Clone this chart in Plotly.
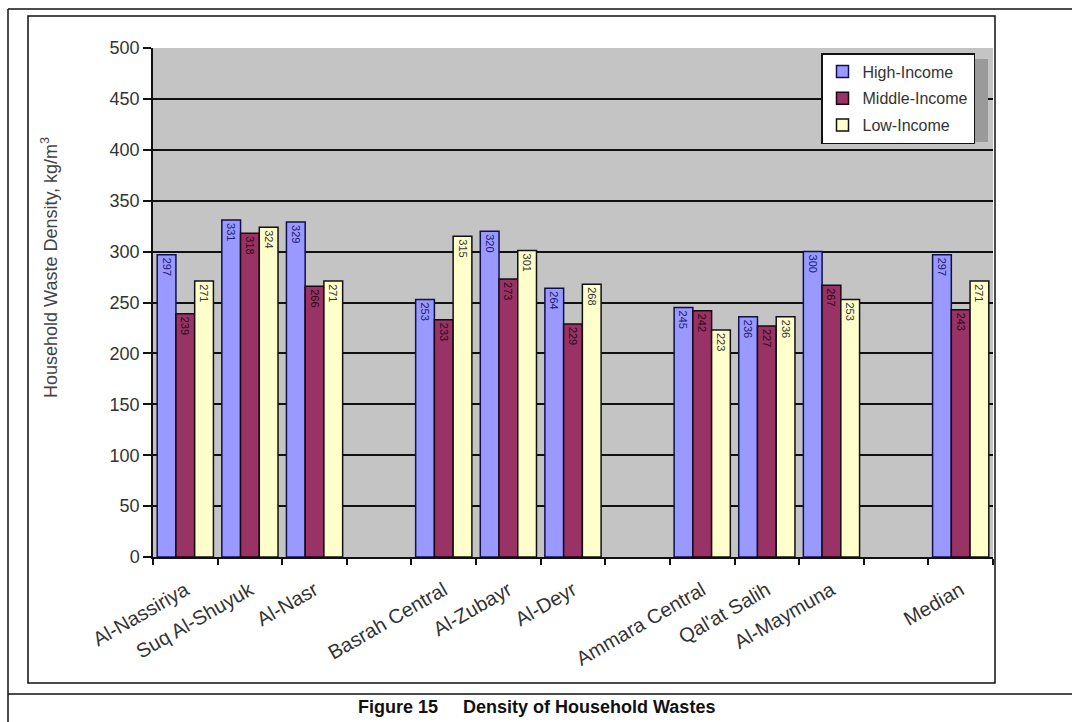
import plotly.graph_objects as go

# Districts in plotting order; empty strings leave a blank slot between governorates
districts = ["Al-Nassiriya", "Suq Al-Shuyuk", "Al-Nasr", "",
             "Basrah Central", "Al-Zubayr", "Al-Deyr", "",
             "Ammara Central", "Qal'at Salih", "Al-Maymuna", "",
             "Median"]

# Household waste density (kg/m3) by income level
high_income = [297, 331, 329, None, 253, 320, 264, None, 245, 236, 300, None, 297]
middle_income = [239, 318, 266, None, 233, 273, 229, None, 242, 227, 267, None, 243]
low_income = [271, 324, 271, None, 315, 301, 268, None, 223, 236, 253, None, 271]

y_ticks = list(range(0, 501, 50))

W, H = 1072, 722
PL, PR, PT, PB = 153, 993, 48, 557  # plot area in pixels


def px(x):
    return (x - PL) / (PR - PL)


def py(y):
    return (PB - y) / (PB - PT)


slots = list(range(len(districts)))
arial = "Arial, Liberation Sans, sans-serif"

series = [
    ("High-Income", high_income, "#9999FF", "#1c1c70", "#10104a"),
    ("Middle-Income", middle_income, "#993366", "#2a0a18", "#1a0a10"),
    ("Low-Income", low_income, "#FFFFCC", "#333333", "#111111"),
]

fig = go.Figure()
for name, vals, fill, txt, edge in series:
    fig.add_trace(go.Bar(
        name=name,
        x=slots,
        y=vals,
        marker=dict(color=fill, line=dict(color=edge, width=1.5)),
        text=[("" if v is None else str(v)) for v in vals],
        textposition="inside",
        insidetextanchor="end",
        textangle=90,
        textfont=dict(family=arial, size=11, color=txt),
        constraintext="none",
        legendgroup=name,
        hoverinfo="skip",
    ))

shapes = [
    # outer page frame
    dict(type="line", xref="paper", yref="paper",
         x0=px(8), x1=px(8), y0=py(9), y1=py(722), line=dict(color="#111", width=1.5)),
    dict(type="line", xref="paper", yref="paper",
         x0=px(8), x1=px(1072), y0=py(9), y1=py(9), line=dict(color="#111", width=1.5)),
    dict(type="line", xref="paper", yref="paper",
         x0=px(8), x1=px(1072), y0=py(694), y1=py(694), line=dict(color="#111", width=1.5)),
    # chart frame
    dict(type="rect", xref="paper", yref="paper",
         x0=px(28), x1=px(995), y0=py(683), y1=py(16), line=dict(color="#111", width=1.5)),
    # legend drop shadow
    dict(type="rect", xref="paper", yref="paper",
         x0=px(826), x1=px(988), y0=py(142), y1=py(59),
         fillcolor="#9a9a9a", line=dict(width=0)),
]

annotations = [
    # value-axis title
    dict(text="Household Waste Density, kg/m<sup>3</sup>",
         xref="paper", yref="paper", x=px(49), y=py(268),
         xanchor="center", yanchor="middle", textangle=-90, showarrow=False,
         font=dict(family=arial, size=18, color="#444")),
    # figure caption
    dict(text="<b>Figure 15\u00a0\u00a0\u00a0\u00a0\u00a0Density of Household Wastes</b>",
         xref="paper", yref="paper", x=px(536), y=py(707),
         xanchor="center", yanchor="middle", showarrow=False,
         font=dict(family="Liberation Sans Narrow, Arial Narrow, Arial, sans-serif",
                   size=18, color="#111")),
]

fig.update_layout(
    width=W, height=H,
    margin=dict(l=PL, r=W - PR, t=PT, b=H - PB, pad=0),
    paper_bgcolor="white",
    plot_bgcolor="#c4c4c4",
    barmode="group",
    bargap=0.13,
    bargroupgap=0,
    font=dict(family=arial, size=12, color="#333"),
    showlegend=True,
    legend=dict(
        x=px(821), y=py(53), xanchor="left", yanchor="top",
        bgcolor="white", bordercolor="#111", borderwidth=1.5,
        font=dict(family=arial, size=16, color="#333"),
        tracegroupgap=3, itemwidth=30,
        traceorder="grouped",
    ),
    shapes=shapes,
    annotations=annotations,
)

fig.update_xaxes(
    range=[-0.5, len(districts) - 0.5],
    tickmode="array", tickvals=slots, ticktext=districts,
    tickangle=-30, ticks="", ticklabelstandoff=12,
    tickfont=dict(family=arial, size=20, color="#333"),
    showline=True, linecolor="#111", linewidth=1.5,
    showgrid=False, zeroline=False,
    minor=dict(tickmode="array", tickvals=[s - 0.5 for s in range(len(districts) + 1)],
               ticks="outside", ticklen=6, tickcolor="#111", tickwidth=1.5, showgrid=False),
)

fig.update_yaxes(
    range=[0, 500], tickmode="array", tickvals=y_ticks,
    ticks="outside", ticklen=8, tickcolor="#111", tickwidth=1.5,
    tickfont=dict(family=arial, size=18, color="#333"),
    showline=True, linecolor="#111", linewidth=1.5,
    showgrid=True, gridcolor="#111", gridwidth=1.5,
    zeroline=False,
)

fig.write_html("out.html")
